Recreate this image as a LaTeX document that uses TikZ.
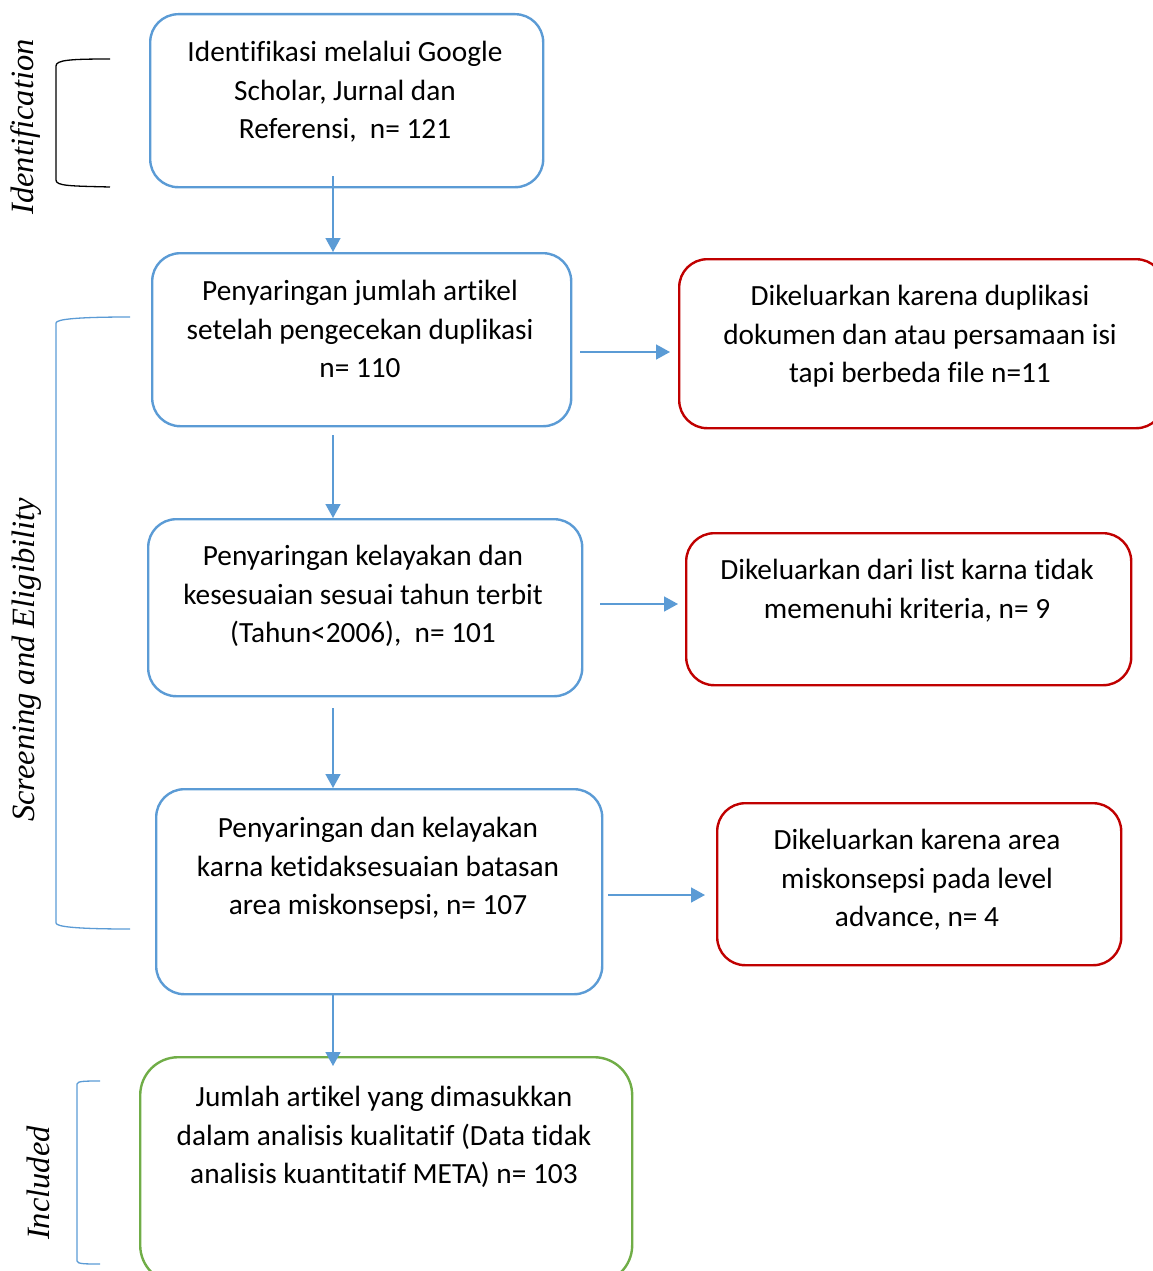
\documentclass[tikz,border=0pt]{standalone}
\usepackage{fontspec}
\setmainfont{Carlito}[Ligatures={NoCommon,NoDiscretionary}]
\newfontfamily\tms{Liberation Serif}
\usetikzlibrary{arrows.meta}
\definecolor{bblue}{HTML}{5B9BD5}
\definecolor{rred}{HTML}{C00000}
\definecolor{ggreen}{HTML}{70AD47}
\tikzset{
  boxbase/.style={draw, line width=2.4pt, rounded corners=28pt, inner sep=0pt, anchor=north west},
  bluebox/.style={boxbase, draw=bblue},
  redbox/.style={boxbase, draw=rred},
  greenbox/.style={boxbase, draw=ggreen, rounded corners=38pt},
  txt/.style={anchor=north, align=center, inner sep=0pt, font=\fontsize{29.3}{38.6}\selectfont},
  arr/.style={draw=bblue, line width=1.6pt, -{Triangle[width=15pt,length=14pt]}},
  brk/.style={line width=1.3pt},
  side/.style={rotate=90, font=\tms\itshape\fontsize{32.5}{36}\selectfont, inner sep=0pt}
}
\begin{document}
\begin{tikzpicture}[x=1pt,y=-1pt]
\useasboundingbox[clip] (0,0) rectangle (1153,1271);
% boxes
\node[bluebox, minimum width=393pt, minimum height=173pt] (b1) at (149,13) {};
\node[bluebox, minimum width=419pt, minimum height=173pt] (b2) at (151,252) {};
\node[bluebox, minimum width=434pt, minimum height=177pt] (b3) at (147,518) {};
\node[bluebox, minimum width=446pt, minimum height=205pt] (b4) at (155,788) {};
\node[greenbox, minimum width=492pt, minimum height=226pt] (b5) at (139,1056) {};
\node[redbox, minimum width=485pt, minimum height=169pt] (r1) at (678,258) {};
\node[redbox, minimum width=445pt, minimum height=152pt] (r2) at (685,532) {};
\node[redbox, minimum width=404pt, minimum height=162pt] (r3) at (716,802) {};
% texts
\node[txt] (t1) at (345,41) {Identifikasi melalui Google\\Scholar, Jurnal dan\\Referensi,\ \ n= 121};
\node[txt] (t2) at (360,280) {Penyaringan jumlah artikel\\setelah pengecekan duplikasi\\n= 110};
\node[txt] (t3) at (363,545) {Penyaringan kelayakan dan\\kesesuaian sesuai tahun terbit\\(Tahun<2006),\ \ n= 101};
\node[txt] (t4) at (378,817) {Penyaringan dan kelayakan\\karna ketidaksesuaian batasan\\area miskonsepsi, n= 107};
\node[txt] (t5) at (384,1086) {Jumlah artikel yang dimasukkan\\dalam analisis kualitatif (Data tidak\\analisis kuantitatif META) n= 103};
\node[txt] (u1) at (920,285) {Dikeluarkan karena duplikasi\\dokumen dan atau persamaan isi\\tapi berbeda file n=11};
\node[txt] (u2) at (907,559) {Dikeluarkan dari list karna tidak\\memenuhi kriteria, n= 9};
\node[txt] (u3) at (917,829) {Dikeluarkan karena area\\miskonsepsi pada level\\advance, n= 4};
% vertical arrows
\coordinate (a1s) at (333,176);
\coordinate (a2s) at (333,435);
\coordinate (a3s) at (333,708);
\coordinate (a4s) at (333,995);
\draw[arr] (a1s) -- (a1s |- b2.north);
\draw[arr] (a2s) -- (a2s |- b3.north);
\draw[arr] (a3s) -- (a3s |- b4.north);
\draw[arr] (a4s) -- (333,1066);
% horizontal arrows
\coordinate (h1) at (580,352);
\coordinate (h2) at (600,604);
\coordinate (h3) at (608,895);
\draw[arr] (h1) -- (670,352);
\draw[arr] (h2) -- (678,604);
\draw[arr] (h3) -- (705,895);
% brackets
\draw[brk, black] (110,59) .. controls (70,59) and (56,60) .. (56,66) -- (56,180) .. controls (56,186) and (70,186) .. (110,187);
\draw[brk, bblue] (130,317) .. controls (80,317) and (56,319) .. (56,323) -- (56,923) .. controls (56,927) and (80,929) .. (130,929);
\draw[brk, bblue] (100,1081) .. controls (86,1081) and (77,1081) .. (77,1084) -- (77,1261) .. controls (77,1264) and (86,1264) .. (100,1264);
% side labels
\node[side] (l1) at (26,127) {Identification};
\node[side] (l2) at (27,660) {Screening and Eligibility};
\node[side] (l3) at (38,1183) {Included};
\end{tikzpicture}
\end{document}
